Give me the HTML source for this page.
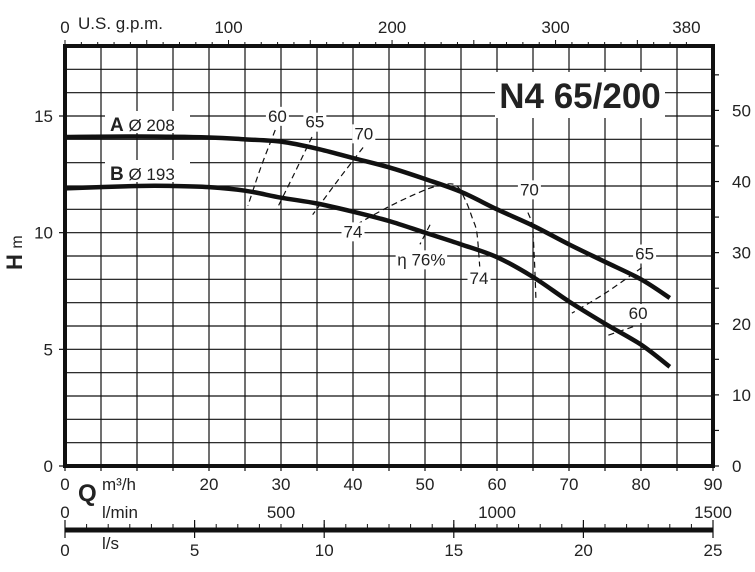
<!DOCTYPE html>
<html><head><meta charset="utf-8"><style>
body{margin:0;background:#fff}
svg text{font-family:"Liberation Sans",sans-serif;fill:#222}
</style></head><body>
<svg id="chart" width="755" height="567" viewBox="0 0 755 567" xmlns="http://www.w3.org/2000/svg">
<g id="grid"></g>
<g id="axes"></g>
<g id="series"></g>
<g id="labels"></g>
</svg>
<script>
const leftTicks=[0,5,10,15];
const rightTicks=[0,10,20,30,40,50];
const topTicks=[0,100,200,300,380];
const qTicks=[0,20,30,40,50,60,70,80,90];
const lminTicks=[0,500,1000,1500];
const lsTicks=[0,5,10,15,20,25];
const curveA=[[0,14.1],[10,14.12],[20,14.08],[25,14.0],[30,13.9],[35,13.6],[40,13.2],[45,12.8],[50,12.3],[55,11.75],[60,11.0],[65,10.3],[70,9.5],[75,8.75],[80,8.0],[84,7.2]];
const curveB=[[0,11.9],[10,12.0],[15,12.0],[20,11.95],[25,11.8],[30,11.5],[35,11.25],[40,10.9],[45,10.5],[50,10.0],[55,9.5],[60,8.95],[65,8.1],[70,7.05],[75,6.1],[80,5.2],[84,4.25]];
const eta60L=[[29.2,14.4],[27.2,12.8],[25.4,11.15]];
const eta65L=[[34.3,14.1],[31.8,12.5],[29.4,11.0]];
const eta70L=[[41.4,13.65],[37.8,12.2],[34.4,10.77]];
const eta74=[[40.5,10.35],[44.7,11.07],[49,11.7],[51.7,12.0],[54.2,12.05],[55.6,11.4],[56.6,10.6],[57.2,10.0],[57.6,8.55]];
const eta76=[[50.7,10.34],[49.3,9.5]];
const eta70R=[[64.3,10.86],[64.9,10.26],[65.2,8.8],[65.4,7.2]];
const eta65R=[[80.1,8.5],[75,7.4],[70.4,6.55]];
const eta60R=[[78.9,5.97],[75.4,5.6]];
const etaLabels=[["60",29.5,14.75],["65",34.7,14.5],["70",41.5,14.0],["74",40,9.8],["η 76%",49.5,8.6],["74",57.5,7.8],["70",64.5,11.6],["65",80.5,8.85],["60",79.6,6.3]];

const X0=65,X1=713,Y0=466,Yt=46;
const x=q=>X0+(X1-X0)*q/90;
const y=h=>Y0-(Y0-Yt)*h/18;
const NS="http://www.w3.org/2000/svg";
function mk(tag,parent,attrs){const e=document.createElementNS(NS,tag);for(const k in attrs)e.setAttribute(k,attrs[k]);document.getElementById(parent).appendChild(e);return e;}
for(let q=5;q<90;q+=5){const l=mk('line','grid',{x1:x(q),x2:x(q),y1:Yt,y2:Y0,stroke:'#111','stroke-width':1.2});

}
for(let h=1;h<18;h++){const l=mk('line','grid',{x1:X0,x2:X1,y1:y(h),y2:y(h),stroke:'#111','stroke-width':1.2});

}
const fr=mk('rect','axes',{x:X0,y:Yt,width:X1-X0,height:Y0-Yt,fill:'none',stroke:'#111','stroke-width':4});


function txt(parent,s,tx,ty,size,anchor,extra){const t=mk('text',parent,Object.assign({x:tx,y:ty,'font-size':size,'text-anchor':anchor||'middle'},extra||{}));t.textContent=s;return t;}
leftTicks.forEach(v=>{mk('line','axes',{x1:X0-6,x2:X0,y1:y(v),y2:y(v),stroke:'#111','stroke-width':1.2});
const t=txt('axes',v,X0-12,y(v)+6,17,'end');

});
for(let f=0;f<=55;f+=5){const yy=y(f*0.3048);mk('line','axes',{x1:X1,x2:X1+6,y1:yy,y2:yy,stroke:'#111','stroke-width':1.2});}
rightTicks.forEach(v=>{const t=txt('axes',v,X1+19,y(v*0.3048)+6,17,'start');

});
for(let g=0;g<=380;g+=10){const xx=x(g*0.22712);mk('line','axes',{x1:xx,x2:xx,y1:Yt-(g%50==0?6:4),y2:Yt,stroke:'#111','stroke-width':1});}
topTicks.forEach(v=>{const t=txt('axes',v,x(v*0.22712),Yt-13,17);

});
const gp=txt('axes','U.S. g.p.m.',78,Yt-17,17,'start');


for(let q=0;q<=90;q+=5){mk('line','axes',{x1:x(q),x2:x(q),y1:Y0,y2:Y0+5,stroke:'#111','stroke-width':1.2});}
qTicks.forEach(v=>{const t=txt('axes',v,x(v),Y0+24,17);

});
lminTicks.forEach(v=>{const t=txt('axes',v,x(v*0.06),Y0+52,17);

});
const bl=mk('line','axes',{x1:X0,x2:X1,y1:530,y2:530,stroke:'#111','stroke-width':5});


for(let m=0;m<=1500;m+=50){const xx=x(m*0.06);mk('line','axes',{x1:xx,x2:xx,y1:524,y2:530,stroke:'#111','stroke-width':1});}
for(let s=0;s<=25;s+=5){const xx=x(s*3.6);mk('line','axes',{x1:xx,x2:xx,y1:520,y2:538,stroke:'#111','stroke-width':1.2});}
lsTicks.forEach(v=>{const t=txt('axes',v,x(v*3.6),Y0+90,17);

});
[["Q",78,501,24,'bold'],["m³/h",102,490,17,''],["l/min",102,518,17,''],["l/s",102,549,17,'']].forEach(a=>{const t=txt('axes',a[0],a[1],a[2],a[3],'start',a[4]?{'font-weight':'bold'}:{});

});
const H=txt('axes','H',0,0,22,'middle',{'font-weight':'bold',transform:'translate(22,262) rotate(-90)'});


const mU=txt('axes','m',0,0,16,'middle',{transform:'translate(22,242) rotate(-90)'});


function path(pts){const P=pts.map(p=>[x(p[0]),y(p[1])]);let d='M'+P[0][0]+','+P[0][1];
for(let i=0;i<P.length-1;i++){const p0=P[Math.max(0,i-1)],p1=P[i],p2=P[i+1],p3=P[Math.min(P.length-1,i+2)];
const c1=[p1[0]+(p2[0]-p0[0])/6,p1[1]+(p2[1]-p0[1])/6],c2=[p2[0]-(p3[0]-p1[0])/6,p2[1]-(p3[1]-p1[1])/6];
d+=' C'+c1[0]+','+c1[1]+' '+c2[0]+','+c2[1]+' '+p2[0]+','+p2[1];}
return d;}
const ca=mk('path','series',{d:path(curveA),fill:'none',stroke:'#111','stroke-width':4.5});


const cb=mk('path','series',{d:path(curveB),fill:'none',stroke:'#111','stroke-width':4.5});


[eta60L,eta65L,eta70L,eta74,eta76,eta70R,eta65R,eta60R].forEach(p=>{const e=mk('path','series',{d:path(p),fill:'none',stroke:'#111','stroke-width':1.2,'stroke-dasharray':'6,4'});

});
etaLabels.forEach(l=>{const w=l[0].length*9.5+4;mk('rect','labels',{x:x(l[1])-w/2,y:y(l[2])-15,width:w,height:19,fill:'#fff'});
const t=txt('labels',l[0],x(l[1]),y(l[2]),17);

});
mk('rect','labels',{x:105,y:111,width:85,height:22,fill:'#fff'});
const la=txt('labels','',110,131,17,'start');la.innerHTML='<tspan font-weight="bold" font-size="19">A</tspan> Ø 208';


mk('rect','labels',{x:105,y:160,width:85,height:22,fill:'#fff'});
const lb=txt('labels','',110,180,17,'start');lb.innerHTML='<tspan font-weight="bold" font-size="19">B</tspan> Ø 193';


mk('rect','labels',{x:495,y:72,width:170,height:46,fill:'#fff'});
const ti=txt('labels','N4 65/200',580,108,35,'middle',{'font-weight':'bold','font-family':'"Liberation Sans Narrow","Liberation Sans",sans-serif'});


</script>
</body></html>
